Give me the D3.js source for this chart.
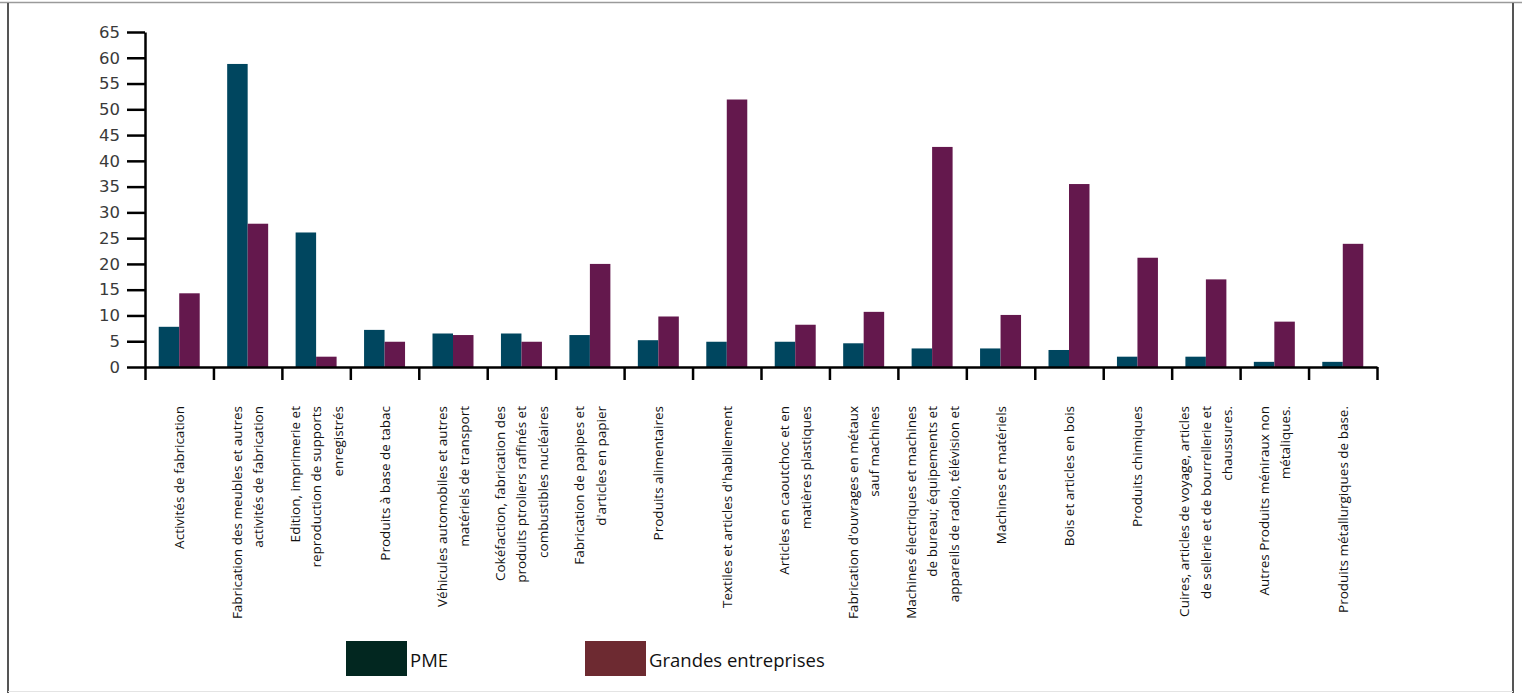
<!DOCTYPE html>
<html>
<head>
<meta charset="utf-8">
<script src="https://cdn.jsdelivr.net/npm/d3@7"></script>
<style>
  html, body { margin: 0; padding: 0; background: #fff; }
  svg { display: block; }
</style>
</head>
<body>
<div id="chart"></div>
<script>
// categories (line breaks as in the original labels)
const categories = [
    ['Activités de fabrication'],
    ['Fabrication des meubles et autres', 'activités de fabrication'],
    ['Edition, imprimerie et', 'reproduction de supports', 'enregistrés'],
    ['Produits à base de tabac'],
    ['Véhicules automobiles et autres', 'matériels de transport'],
    ['Cokéfaction, fabrication des', 'produits ptroliers raffinés et', 'combustibles nucléaires'],
    ['Fabrication de papipes et', "d'articles en papier"],
    ['Produits alimentaires'],
    ["Textiles et articles d'habillement"],
    ['Articles en caoutchoc et en', 'matières plastiques'],
    ["Fabrication d'ouvrages en métaux", 'sauf machines'],
    ['Machines électriques et machines', 'de bureau; équipements et', 'appareils de radio, télévision et'],
    ['Machines et matériels'],
    ['Bois et articles en bois'],
    ['Produits chimiques'],
    ['Cuires, articles de voyage, articles', 'de sellerie et de bourrellerie et', 'chaussures.'],
    ['Autres Produits méniraux non', 'métaliques.'],
    ['Produits métallurgiques de base.']
];

const pme = [7.8, 58.8, 26.1, 7.2, 6.5, 6.5, 6.2, 5.2, 4.9, 4.9, 4.6, 3.6, 3.6, 3.3, 2.0, 2.0, 1.0, 1.0];
const grandes = [14.3, 27.8, 2.0, 4.9, 6.2, 4.9, 20.0, 9.8, 51.9, 8.2, 10.7, 42.7, 10.1, 35.5, 21.2, 17.0, 8.8, 23.9];

const series = ['PME', 'Grandes entreprises'];
const barColors = ['#00465f', '#64184d'];
const legendColors = ['#022720', '#6d2a31'];
const yTicks = d3.range(0, 66, 5);

const W = 1522, H = 693;
const x0 = 145, x1 = 1377, yTop = 32, yBase = 367;

const svg = d3.select('#chart').append('svg')
    .attr('width', W)
    .attr('height', H);

// page frame
svg.append('line').attr('x1', 0).attr('x2', W).attr('y1', 2.5).attr('y2', 2.5)
    .attr('stroke', '#9a9a9a').attr('stroke-width', 1.5);
svg.append('line').attr('x1', 8).attr('x2', 8).attr('y1', 3).attr('y2', H)
    .attr('stroke', '#555').attr('stroke-width', 2);
svg.append('line').attr('x1', 1513).attr('x2', 1513).attr('y1', 3).attr('y2', H)
    .attr('stroke', '#555').attr('stroke-width', 2);
svg.append('line').attr('x1', 8).attr('x2', 1513).attr('y1', 691.5).attr('y2', 691.5)
    .attr('stroke', '#e4e4e4').attr('stroke-width', 1);

const idx = d3.range(categories.length);

const x = d3.scaleBand()
    .domain(idx)
    .range([x0, x1]);

const xs = d3.scaleBand()
    .domain(series)
    .range([0, x.bandwidth()])
    .paddingOuter(0.67);

const y = d3.scaleLinear()
    .domain([0, 65])
    .range([yBase, yTop]);

// boundaries for the x ticks
const xEdge = d3.scaleLinear()
    .domain([0, categories.length])
    .range([x0, x1]);

// bars
const groups = svg.append('g')
    .selectAll('g')
    .data(idx)
    .join('g')
    .attr('transform', i => `translate(${x(i)},0)`);

groups.selectAll('rect')
    .data(i => [pme[i], grandes[i]].map((v, k) => ({ key: series[k], v, k })))
    .join('rect')
    .attr('x', d => xs(d.key))
    .attr('width', xs.bandwidth())
    .attr('y', d => y(d.v))
    .attr('height', d => yBase - y(d.v))
    .attr('fill', d => barColors[d.k]);

// y axis
const yAxis = svg.append('g')
    .attr('transform', `translate(${x0},0)`)
    .call(d3.axisLeft(y).tickValues(yTicks).tickSize(18).tickSizeOuter(0).tickPadding(7));
yAxis.select('.domain').attr('stroke', '#000').attr('stroke-width', 2.5);
yAxis.selectAll('.tick line').attr('stroke', '#000').attr('stroke-width', 2.5);
yAxis.selectAll('.tick text')
    .attr('fill', '#3a3a3a')
    .style('font-family', '"DejaVu Sans", sans-serif')
    .style('font-size', '16.5px');

// x axis
const xAxis = svg.append('g')
    .attr('transform', `translate(0,${yBase})`)
    .call(d3.axisBottom(xEdge).tickValues(d3.range(0, categories.length + 1))
        .tickSize(13).tickSizeOuter(0).tickFormat(''));
xAxis.select('.domain').attr('stroke', '#000').attr('stroke-width', 2.5);
xAxis.selectAll('.tick line').attr('stroke', '#000').attr('stroke-width', 2.5);

// rotated category labels
const lineGap = 21.5;
const labels = svg.append('g')
    .selectAll('text')
    .data(idx)
    .join('text')
    .attr('transform', i => {
        const n = categories[i].length;
        const cx = x(i) + x.bandwidth() / 2 - (n - 1) / 2 * lineGap + 5;
        return `translate(${cx},406) rotate(-90)`;
    })
    .attr('text-anchor', 'end')
    .attr('fill', '#111')
    .style('font-family', '"Open Sans", sans-serif')
    .style('font-size', '13.5px');

labels.selectAll('tspan')
    .data(i => categories[i])
    .join('tspan')
    .attr('x', 0)
    .attr('y', (d, j) => j * lineGap)
    .text(d => d);

// legend
const legendX = [346, 585];
const legend = svg.append('g')
    .selectAll('g')
    .data(series)
    .join('g')
    .attr('transform', (d, i) => `translate(${legendX[i]},641)`);

legend.append('rect')
    .attr('width', 61)
    .attr('height', 35)
    .attr('fill', (d, i) => legendColors[i]);

legend.append('text')
    .attr('x', 64)
    .attr('y', 26)
    .attr('fill', '#111')
    .style('font-family', '"Open Sans", sans-serif')
    .style('font-size', '18.5px')
    .text(d => d);
</script>
</body>
</html>
